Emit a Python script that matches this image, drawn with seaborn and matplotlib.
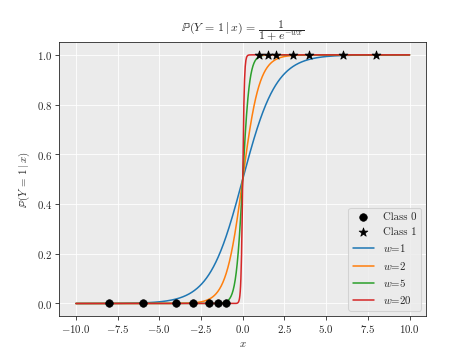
import numpy as np
import pandas as pd
import matplotlib
matplotlib.use("Agg")
import matplotlib.pyplot as plt
import seaborn as sns

# data points
class0_x = [-8, -6, -4, -3, -2, -1.5, -1]
class1_x = [1, 1.5, 2, 3, 4, 6, 8]
weights = [1, 2, 5, 20]

sns.set_style("darkgrid", {"axes.facecolor": "#EBEBEB", "axes.edgecolor": "#222222",
                           "grid.color": "white", "xtick.bottom": True, "ytick.left": True})
plt.rcParams["font.family"] = "serif"
plt.rcParams["font.serif"] = ["cmr10"]
plt.rcParams["mathtext.fontset"] = "cm"
plt.rcParams["axes.formatter.use_mathtext"] = True
plt.rcParams["axes.unicode_minus"] = True
plt.rcParams["font.size"] = 10

fig, ax = plt.subplots(figsize=(6.4, 4.8), dpi=74)

df0 = pd.DataFrame({"x": class0_x, "y": [0] * len(class0_x)})
df1 = pd.DataFrame({"x": class1_x, "y": [1] * len(class1_x)})
sns.scatterplot(data=df0, x="x", y="y", color="black", marker="o", s=55,
                edgecolor="black", label="Class 0", ax=ax, zorder=3)
sns.scatterplot(data=df1, x="x", y="y", color="black", marker="*", s=80,
                edgecolor="black", label="Class 1", ax=ax, zorder=3)

xs = np.linspace(-10, 10, 1000)
pal = sns.color_palette("tab10")
for i, w in enumerate(weights):
    curve = pd.DataFrame({"x": xs, "p": 1 / (1 + np.exp(-w * xs))})
    sns.lineplot(data=curve, x="x", y="p", color=pal[i], label=f"$w$={w}", ax=ax, lw=1.5)

ax.set_title(r"$\mathbb{P}(Y\,=\,1\mid x)\,=\,\dfrac{1}{1+e^{-wx}}$", fontsize=11.5)
ax.set_xlabel(r"$x$", fontsize=10.5)
ax.set_ylabel(r"$\mathbb{P}(Y\,=\,1\mid x)$", fontsize=10.5)
ax.tick_params(direction="out", length=3.5, color="#222222", labelsize=10.5)
ax.set_xticks([-10, -7.5, -5, -2.5, 0, 2.5, 5, 7.5, 10])
leg = ax.legend(loc="lower right", facecolor="#EBEBEB", framealpha=0.8, fontsize=10.5)

fig.subplots_adjust(left=0.125, right=0.9, top=0.88, bottom=0.11)
fig.savefig("out.png", dpi=74)
